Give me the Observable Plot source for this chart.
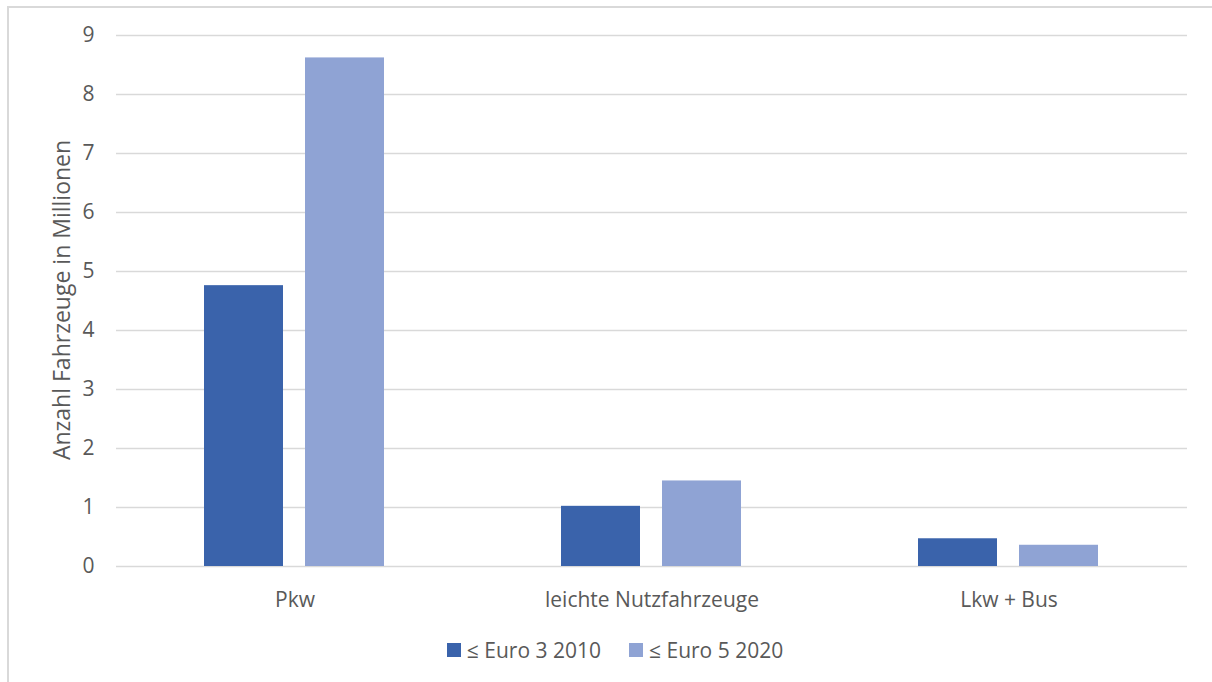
<!DOCTYPE html>
<html>
<head>
<meta charset="utf-8">
<script src="https://cdn.jsdelivr.net/npm/d3@7"></script>
<script src="https://cdn.jsdelivr.net/npm/@observablehq/plot@0.6"></script>
<style>
  html, body { margin: 0; padding: 0; background: #fff; }
  #wrap { position: relative; width: 1212px; height: 682px; overflow: hidden; font-family: "Open Sans", sans-serif; }
  #frame { position: absolute; left: 7px; top: 6px; width: 1400px; height: 900px; border-left: 2px solid #D9D9D9; border-top: 2px solid #D9D9D9; }
  #chart { position: absolute; left: 0; top: 0; }
  #ylabel { position: absolute; left: 61px; top: 300px; transform: translate(-50%, -50%) rotate(-90deg); white-space: nowrap; font-size: 23px; color: #595959; }
  #legend { position: absolute; top: 636px; left: 9px; width: 1212px; display: flex; justify-content: center; gap: 28px; font-size: 21px; color: #595959; }
  .item { display: flex; align-items: center; gap: 6px; }
  .sw { width: 14px; height: 14px; display: inline-block; }
</style>
</head>
<body>
<div id="wrap">
  <div id="frame"></div>
  <div id="chart"></div>
  <div id="ylabel"></div>
  <div id="legend"></div>
</div>
<script>
const categories = ["Pkw", "leichte Nutzfahrzeuge", "Lkw + Bus"];
const series = ["≤ Euro 3 2010", "≤ Euro 5 2020"];
const valuesEuro3 = [4.76, 1.02, 0.47];
const valuesEuro5 = [8.62, 1.45, 0.36];
const colors = ["#3A63AB", "#8FA3D4"];
const yTicks = [0, 1, 2, 3, 4, 5, 6, 7, 8, 9];
const yLabel = "Anzahl Fahrzeuge in Millionen";

const data = [];
categories.forEach((c, i) => {
  data.push({cat: c, series: series[0], value: valuesEuro3[i]});
  data.push({cat: c, series: series[1], value: valuesEuro5[i]});
});

const font = "'Open Sans', sans-serif";
const chart = Plot.plot({
  width: 1212,
  height: 625,
  marginLeft: 115,
  marginRight: 25,
  marginTop: 35,
  marginBottom: 59,
  style: {fontFamily: font, background: "transparent"},
  fx: {domain: categories, padding: 0},
  x: {domain: series, paddingInner: 0.2157, paddingOuter: 0.859, axis: null},
  y: {domain: [0, 9]},
  color: {domain: series, range: colors},
  marks: [
    Plot.ruleY(yTicks, {stroke: "#D9D9D9", strokeWidth: 1.5}),
    Plot.barY(data, {fx: "cat", x: "series", y: "value", fill: "series"}),
    Plot.axisY(yTicks, {tickSize: 0, tickPadding: 22, fontSize: 21, fill: "#595959", tickFormat: "d", label: null}),
    Plot.axisFx({anchor: "bottom", tickSize: 0, tickPadding: 26, fontSize: 21, fill: "#595959", label: null})
  ]
});
document.getElementById("chart").appendChild(chart);
document.getElementById("ylabel").textContent = yLabel;

const legend = document.getElementById("legend");
series.forEach((s, i) => {
  const it = document.createElement("div");
  it.className = "item";
  const sw = document.createElement("span");
  sw.className = "sw";
  sw.style.background = colors[i];
  const t = document.createElement("span");
  t.textContent = s;
  it.appendChild(sw); it.appendChild(t);
  legend.appendChild(it);
});
</script>
</body>
</html>
